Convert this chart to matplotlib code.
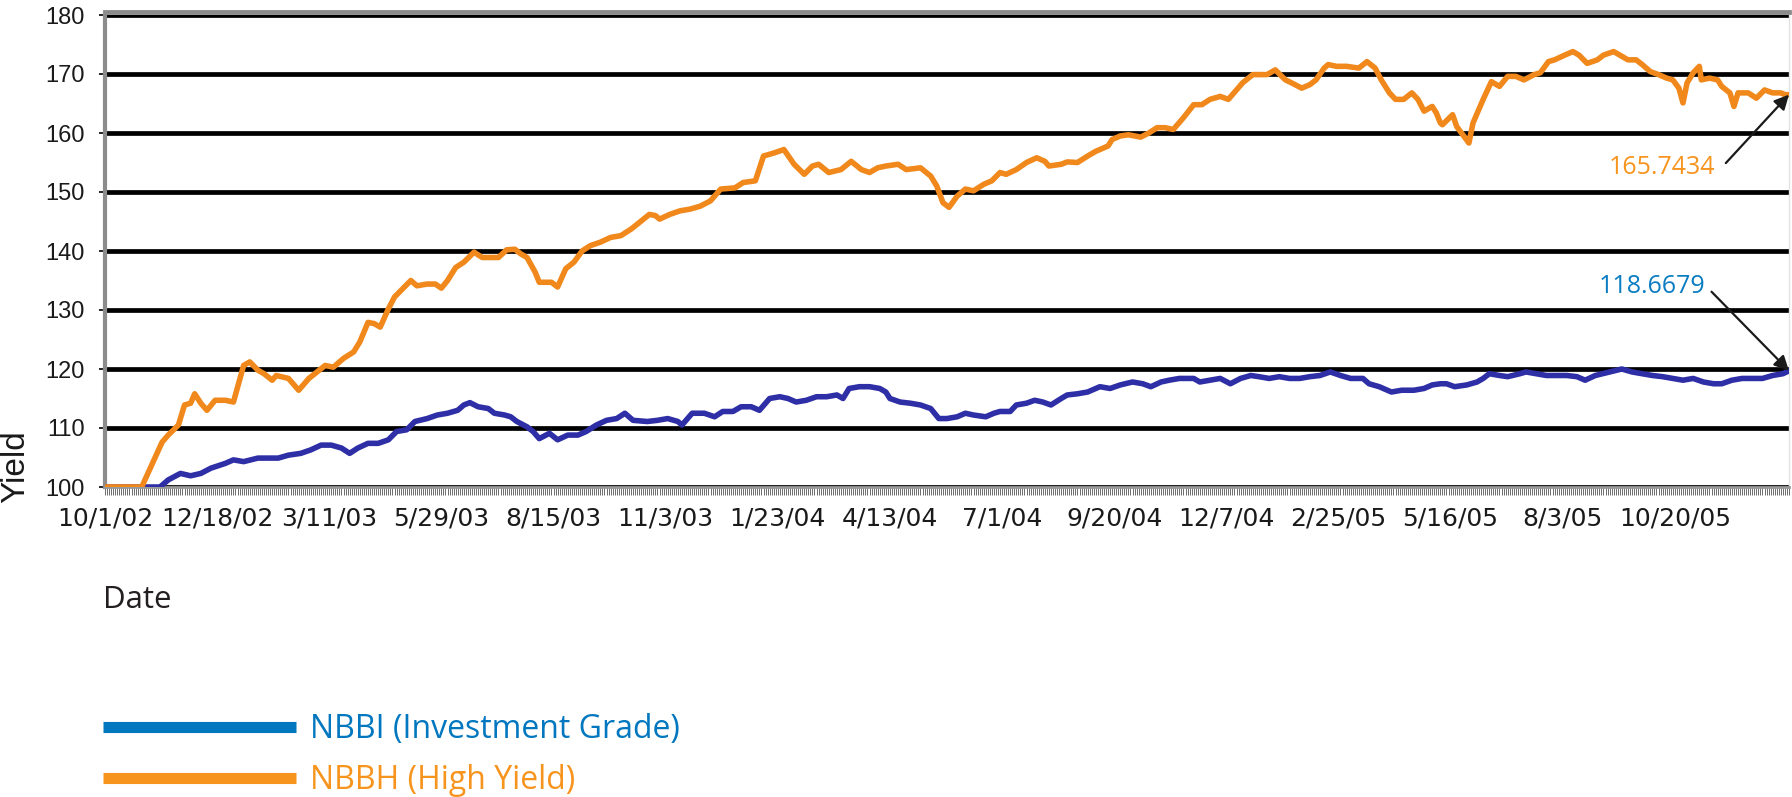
import matplotlib
matplotlib.use("Agg")
import matplotlib.pyplot as plt
from matplotlib.lines import Line2D
from matplotlib.ticker import MultipleLocator

# index values (x = trading day since 10/1/02)
hy_day = [0, 18, 28, 31, 36, 39, 42, 44, 47, 50, 54, 59, 63, 68, 71, 75, 78, 82, 84, 90,
          95, 100, 104, 108, 112, 117, 122, 125, 129, 132, 135, 139, 142, 146, 150, 153, 158, 162, 165, 168,
          172, 176, 181, 185, 189, 193, 197, 201, 204, 207, 211, 213, 219, 222,
          226, 230, 234, 238, 243, 248, 253, 258, 262, 267, 270, 272, 277, 282, 287, 292,
          297, 302, 309, 313, 319, 323, 328, 333, 338, 343, 347, 350, 355, 361, 366, 371,
          375, 379, 383, 389, 393, 400, 405, 408, 411, 414, 418, 422, 426, 431, 435, 439,
          442, 447, 452, 457, 461, 463, 469, 472, 477, 482, 486, 492, 494, 498, 502, 508,
          512, 516, 520, 524, 529, 534, 538, 542, 547, 551, 553, 558, 563, 570, 574, 579,
          582, 587, 591, 594, 598, 600, 604, 609, 615, 619, 623, 626, 630, 633, 637, 641,
          644, 647, 651, 653, 655,
          656, 661, 663, 669, 671, 676, 680, 684, 688, 692, 696, 701, 704, 708, 711, 716,
          720, 723, 727, 732, 735, 740, 743, 747, 751, 754, 758, 762, 766, 769, 772, 774,
          776, 779, 782, 783, 787, 791, 793, 797, 799, 801, 806, 810, 814, 818, 822, 824, 826]
hy_val = [100.0, 100.0, 107.6, 108.8, 110.5, 113.9, 114.2, 115.8, 114.2, 113.0, 114.7, 114.7, 114.4, 120.6, 121.2, 119.8, 119.2, 118.1, 118.9, 118.4,
          116.4, 118.4, 119.5, 120.6, 120.3, 121.8, 122.9, 124.6, 127.9, 127.7, 127.1, 130.2, 132.2, 133.6, 135.0, 134.1, 134.4, 134.4, 133.7, 135.0,
          137.2, 138.1, 139.8, 138.9, 138.9, 138.9, 140.2, 140.3, 139.5, 138.9, 136.4, 134.7, 134.7, 133.9,
          137.0, 138.1, 140.0, 140.9, 141.5, 142.3, 142.6, 143.7, 144.8, 146.2, 146.0, 145.4, 146.2, 146.8, 147.1, 147.6,
          148.5, 150.5, 150.7, 151.6, 151.9, 156.1, 156.6, 157.2, 154.7, 153.0, 154.4, 154.7, 153.3, 153.8, 155.2, 153.8,
          153.3, 154.1, 154.4, 154.7, 153.8, 154.1, 152.7, 151.0, 148.2, 147.4, 149.3, 150.5, 150.2, 151.3, 151.9, 153.3,
          153.0, 153.8, 155.0, 155.8, 155.2, 154.4, 154.7, 155.1, 155.0, 156.1, 156.9, 157.8, 158.9, 159.5, 159.7, 159.3,
          160.0, 160.9, 160.9, 160.6, 162.6, 164.8, 164.8, 165.7, 166.2, 165.7, 166.5, 168.5, 169.9, 169.9, 170.7, 169.0,
          168.5, 167.6, 168.2, 169.0, 171.0, 171.6, 171.3, 171.3, 171.0, 172.1, 171.0, 169.0, 166.8, 165.7, 165.7, 166.8,
          165.7, 163.7, 164.5, 163.4, 161.7,
          161.4, 163.1, 161.1, 158.3, 161.7, 165.7, 168.7, 167.9, 169.6, 169.6, 169.0, 169.9, 170.2, 172.1, 172.4, 173.2,
          173.8, 173.2, 171.8, 172.4, 173.2, 173.8, 173.2, 172.4, 172.4, 171.6, 170.4, 169.9, 169.3, 169.0, 167.6, 165.1,
          168.5, 170.2, 171.3, 169.0, 169.3, 169.0, 167.9, 166.8, 164.5, 166.8, 166.8, 165.9, 167.3, 166.8, 166.8, 166.5, 166.5]

ig_day = [0, 27, 31, 37, 42, 47, 52, 59, 63, 68, 75, 80, 85, 90, 96, 101, 106, 111, 116, 120, 124,
          129, 134, 139, 143, 148, 152, 158, 163, 168, 173, 176, 179, 183, 188, 191, 196, 199, 202, 207, 210,
          213, 218, 222,
          227, 232, 236, 241, 246, 251, 255, 259, 266, 271, 276, 281, 283, 288, 294, 299, 303, 308, 312, 317,
          321, 326, 331, 335, 339, 344, 349, 354, 359, 362, 365, 370, 375, 380, 383, 385, 390, 395, 400, 405,
          409, 413, 418, 422, 426, 432, 436, 439,
          444, 447, 452, 456, 460, 464, 469, 472, 477, 482, 488, 493, 498, 504, 509, 513, 518, 522, 527, 534,
          537, 542, 547, 552, 557, 562, 566, 571, 576, 581, 586, 591, 596, 601, 606, 611, 617, 620, 625, 631,
          636, 642, 647, 651, 655,
          658, 662, 668, 673, 676, 679, 684, 688, 694, 697, 702, 707, 712, 717, 722, 726, 731, 738, 744, 749,
          754, 759, 764, 769, 774, 779, 784, 789, 793, 798, 803, 808, 813, 818, 823, 826]
ig_val = [100.0, 100.0, 101.2, 102.3, 101.9, 102.3, 103.2, 104.0, 104.6, 104.3, 104.9, 104.9, 104.9, 105.4, 105.7, 106.3, 107.1, 107.1, 106.6, 105.7, 106.6,
          107.4, 107.4, 108.0, 109.4, 109.7, 111.1, 111.6, 112.2, 112.5, 113.0, 113.9, 114.3, 113.6, 113.3, 112.5, 112.2, 111.9, 111.1, 110.2, 109.4,
          108.2, 109.1, 108.0,
          108.8, 108.8, 109.4, 110.5, 111.3, 111.6, 112.5, 111.3, 111.1, 111.3, 111.6, 111.1, 110.5, 112.5, 112.5, 111.9, 112.8, 112.8, 113.6, 113.6,
          113.0, 115.0, 115.3, 115.0, 114.4, 114.7, 115.3, 115.3, 115.6, 115.0, 116.7, 117.0, 117.0, 116.7, 116.1, 115.0, 114.4, 114.2, 113.9, 113.3,
          111.6, 111.6, 111.9, 112.5, 112.2, 111.9, 112.5, 112.8,
          112.8, 113.9, 114.2, 114.7, 114.4, 113.9, 115.0, 115.6, 115.8, 116.1, 117.0, 116.7, 117.3, 117.8, 117.5, 117.0, 117.8, 118.1, 118.4, 118.4,
          117.8, 118.1, 118.4, 117.5, 118.4, 118.9, 118.7, 118.4, 118.7, 118.4, 118.4, 118.7, 118.9, 119.5, 118.9, 118.4, 118.4, 117.5, 117.0, 116.1,
          116.4, 116.4, 116.7, 117.3, 117.5,
          117.5, 117.0, 117.3, 117.8, 118.4, 119.2, 118.9, 118.7, 119.2, 119.5, 119.2, 118.9, 118.9, 118.9, 118.7, 118.1, 118.9, 119.5, 120.0, 119.5,
          119.2, 118.9, 118.7, 118.4, 118.1, 118.4, 117.8, 117.5, 117.5, 118.1, 118.4, 118.4, 118.4, 118.9, 119.2, 119.7]

tick_labels = ["10/1/02", "12/18/02", "3/11/03", "5/29/03", "8/15/03", "11/3/03", "1/23/04",
               "4/13/04", "7/1/04", "9/20/04", "12/7/04", "2/25/05", "5/16/05", "8/3/05", "10/20/05"]
tick_step = 55

series_names = ["NBBI (Investment Grade)", "NBBH (High Yield)"]
hy_last_label = "165.7434"
ig_last_label = "118.6679"

W, H = 1792, 797
fig = plt.figure(figsize=(W / 100, H / 100), dpi=100)
ax = fig.add_axes([105 / W, 1 - 487 / H, (1789 - 105) / W, (487 - 15) / H])

ax.plot(ig_day, ig_val, color="#2E2EA6", lw=4, solid_joinstyle="round", zorder=3)
ax.plot(hy_day, hy_val, color="#F0881C", lw=4, solid_joinstyle="round", zorder=4)

ax.set_xlim(0, 826)
ax.set_ylim(100, 180)
ax.set_yticks(range(100, 181, 10))
ax.yaxis.grid(True, color="black", lw=3.4)
ax.set_axisbelow(True)

ax.set_xticks([i * tick_step for i in range(len(tick_labels))])
ax.set_xticklabels(tick_labels)
ax.xaxis.set_minor_locator(MultipleLocator(1))
ax.tick_params(axis="x", which="both", direction="out", length=5.8, width=0.6,
               color="#555555", pad=8, labelsize=18, labelcolor="#1a1a1a")
ax.tick_params(axis="y", direction="out", length=4.5, width=1.2, color="black",
               pad=10, labelsize=17, labelcolor="#1a1a1a")
for lab in ax.get_xticklabels() + ax.get_yticklabels():
    lab.set_fontfamily("Liberation Sans")

ax.spines["top"].set_color("#8c8c8c")
ax.spines["top"].set_linewidth(3.5)
ax.spines["top"].set_position(("outward", 2.5))
ax.spines["left"].set_color("#8c8c8c")
ax.spines["left"].set_linewidth(3)
ax.spines["bottom"].set_color("#999999")
ax.spines["bottom"].set_linewidth(2)
ax.spines["right"].set_color("#e2e2e2")
ax.spines["right"].set_linewidth(1)

# end-value callouts
ax.text(790, 154.1, hy_last_label, ha="right", va="center", color="#F7941D",
        fontsize=18, family="Open Sans")
ax.annotate("", xy=(hy_day[-1], hy_val[-1]), xytext=(795, 154.9),
            arrowprops=dict(arrowstyle="-|>", color="#1a1a1a", lw=1.6,
                            mutation_scale=22, shrinkA=0, shrinkB=0),
            annotation_clip=False, zorder=6)
ax.text(785, 133.9, ig_last_label, ha="right", va="center", color="#0A7DC2",
        fontsize=18, family="Open Sans")
ax.annotate("", xy=(ig_day[-1], ig_val[-1]), xytext=(788, 133.1),
            arrowprops=dict(arrowstyle="-|>", color="#1a1a1a", lw=1.6,
                            mutation_scale=22, shrinkA=0, shrinkB=0),
            annotation_clip=False, zorder=6)

fig.text(16 / W, 1 - 467 / H, "Yield", rotation=90, ha="center", va="center",
         fontsize=24, family="Liberation Sans", color="#1a1a1a")
fig.text(103 / W, 1 - 600 / H, "Date", ha="left", va="center",
         fontsize=22.5, family="Open Sans", color="#231f20")

handles = [Line2D([], [], color="#0077BF", lw=8, solid_capstyle="butt"),
           Line2D([], [], color="#F7941D", lw=8, solid_capstyle="butt")]
fig.legend(handles, series_names, loc="center left",
           bbox_to_anchor=(103 / W, 1 - 755 / H), frameon=False,
           prop={"family": "Open Sans", "size": 23},
           handlelength=6.05, handletextpad=0.43, labelspacing=0.55,
           borderpad=0, borderaxespad=0,
           labelcolor=["#0077BF", "#F7941D"])

fig.savefig("out.png", dpi=100)
